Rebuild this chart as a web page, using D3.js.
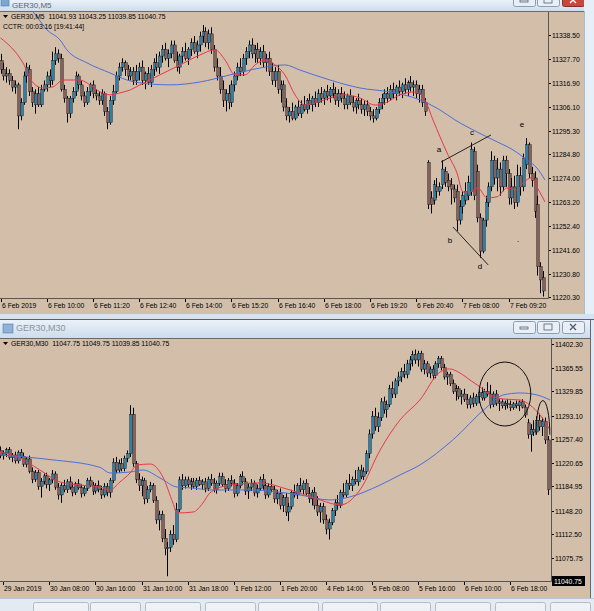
<!DOCTYPE html>
<html lang="en">
<head>
<meta charset="UTF-8">
<title>GER30 M5 / M30</title>
<script src="https://cdn.jsdelivr.net/npm/d3@7"></script>
<style>
  body { margin: 0; background: #dfe9f5; overflow: hidden; }
  svg { display: block; font-family: "Liberation Sans", Arial, sans-serif; }
  .lbl { font-size: 6.8px; fill: #000; }
  .note { font-size: 8px; fill: #000; text-anchor: middle; }
</style>
</head>
<body>
<svg id="screen" width="594" height="611"></svg>
<script>
// ---- M5 chart (top) ----
const m5Times = ["6 Feb 2019", "6 Feb 10:00", "6 Feb 11:20", "6 Feb 12:40", "6 Feb 14:00", "6 Feb 15:20",
  "6 Feb 16:40", "6 Feb 18:00", "6 Feb 19:20", "6 Feb 20:40", "7 Feb 08:00", "7 Feb 09:20"];
const m5Prices = ["11338.50", "11327.70", "11316.90", "11306.10", "11295.30", "11284.80", "11274.00",
  "11263.20", "11252.40", "11241.60", "11230.80", "11220.30"];
// [open, high, low, close]
const m5Bars = [
  [11327,11330,11321,11323],[11323,11326,11318,11320],[11320,11324,11317,11321],[11321,11323,11316,11318],
  [11318,11320,11313,11315],[11315,11318,11312,11316],[11316,11317,11296,11302],[11302,11310,11300,11308],
  [11308,11322,11307,11320],[11320,11326,11317,11324],[11323,11325,11311,11313],[11313,11315,11306,11308],
  [11307,11314,11303,11312],[11312,11315,11306,11307],[11307,11316,11306,11314],[11314,11318,11313,11316],
  [11316,11322,11313,11320],[11320,11323,11315,11318],[11318,11331,11316,11327],[11327,11333,11325,11330],
  [11330,11332,11326,11328],[11328,11330,11313,11314],[11314,11316,11308,11310],[11310,11311,11299,11303],
  [11303,11311,11301,11310],[11310,11315,11308,11313],[11313,11322,11311,11320],[11320,11321,11314,11316],
  [11316,11318,11309,11311],[11311,11313,11306,11308],[11308,11315,11307,11313],[11313,11317,11311,11316],
  [11316,11318,11310,11312],[11312,11314,11309,11311],[11311,11313,11307,11309],[11309,11314,11307,11312],
  [11312,11313,11302,11304],[11304,11306,11296,11299],[11299,11311,11298,11309],[11309,11316,11307,11313],
  [11313,11322,11312,11320],[11320,11326,11318,11324],[11324,11328,11322,11326],[11326,11327,11320,11323],
  [11323,11325,11318,11320],[11320,11324,11318,11322],[11322,11324,11316,11318],[11318,11325,11316,11322],
  [11322,11326,11318,11324],[11324,11327,11316,11318],[11318,11322,11314,11321],[11321,11324,11316,11317],
  [11317,11325,11315,11323],[11323,11328,11320,11326],[11326,11330,11322,11324],[11324,11331,11321,11329],
  [11329,11334,11326,11332],[11332,11335,11327,11328],[11328,11332,11324,11330],[11330,11336,11328,11334],
  [11334,11336,11326,11327],[11327,11331,11322,11324],[11324,11330,11321,11329],[11329,11333,11326,11331],
  [11331,11335,11327,11328],[11328,11333,11325,11332],[11332,11337,11329,11335],[11335,11338,11330,11331],
  [11331,11336,11328,11334],[11334,11340,11331,11338],[11338,11343,11335,11340],[11340,11342,11333,11335],
  [11335,11341,11332,11339],[11339,11342,11330,11332],[11332,11334,11322,11324],[11324,11328,11318,11320],
  [11320,11324,11312,11314],[11314,11318,11306,11309],[11309,11314,11304,11312],[11312,11316,11305,11308],
  [11308,11318,11306,11316],[11316,11322,11313,11320],[11320,11326,11318,11324],[11324,11328,11320,11322],
  [11322,11330,11320,11328],[11328,11333,11325,11331],[11331,11336,11328,11334],[11334,11337,11328,11330],
  [11330,11334,11326,11332],[11332,11335,11326,11328],[11328,11333,11325,11331],[11331,11334,11324,11326],
  [11326,11330,11322,11328],[11328,11331,11320,11322],[11322,11326,11316,11318],[11318,11324,11315,11322],
  [11322,11325,11312,11314],[11314,11318,11308,11316],[11316,11318,11304,11306],[11306,11310,11300,11302],
  [11302,11306,11299,11304],[11304,11308,11300,11301],[11301,11307,11300,11306],[11306,11309,11302,11303],
  [11303,11309,11301,11307],[11307,11311,11304,11305],[11305,11310,11303,11309],[11309,11312,11305,11307],
  [11307,11311,11304,11310],[11310,11313,11306,11308],[11308,11314,11306,11312],[11312,11315,11308,11310],
  [11310,11314,11307,11313],[11313,11316,11309,11311],[11311,11315,11308,11314],[11314,11317,11310,11312],
  [11312,11315,11307,11309],[11309,11314,11306,11312],[11312,11315,11308,11310],[11310,11313,11305,11307],
  [11307,11312,11305,11311],[11311,11314,11307,11308],[11308,11311,11304,11306],[11306,11310,11303,11309],
  [11309,11312,11305,11307],[11307,11310,11303,11305],[11305,11309,11302,11307],[11307,11309,11302,11304],
  [11304,11306,11300,11302],[11302,11305,11299,11301],[11301,11306,11300,11305],[11305,11310,11303,11308],
  [11308,11312,11305,11310],[11310,11314,11307,11312],[11312,11315,11308,11310],[11310,11316,11309,11314],
  [11314,11317,11310,11312],[11312,11316,11309,11315],[11315,11318,11311,11313],[11313,11317,11310,11316],
  [11316,11319,11312,11314],[11314,11318,11311,11317],[11317,11320,11313,11315],[11315,11318,11311,11316],
  [11316,11318,11310,11312],[11312,11316,11308,11314],[11314,11316,11306,11308],[11308,11310,11302,11304],
  [11281,11282,11260,11262],[11265,11268,11258,11262],[11264,11273,11262,11271],[11270,11274,11265,11268],
  [11268,11272,11266,11270],[11271,11282,11269,11278],[11277,11279,11270,11272],[11273,11276,11268,11270],
  [11271,11274,11262,11269],[11269,11271,11263,11265],[11268,11271,11250,11255],[11255,11264,11253,11261],
  [11261,11268,11258,11266],[11264,11272,11262,11268],[11266,11275,11264,11272],[11268,11290,11266,11287],
  [11286,11288,11264,11266],[11277,11280,11254,11256],[11256,11258,11238,11241],[11241,11256,11240,11255],
  [11255,11266,11252,11263],[11263,11272,11261,11270],[11270,11286,11268,11282],[11282,11284,11271,11274],
  [11274,11283,11268,11278],[11278,11281,11266,11270],[11270,11284,11268,11282],[11282,11284,11270,11276],
  [11276,11278,11262,11265],[11265,11274,11262,11270],[11270,11275,11260,11263],[11263,11280,11261,11275],
  [11275,11279,11266,11270],[11270,11285,11268,11283],[11280,11292,11278,11289],[11289,11290,11274,11276],
  [11276,11279,11270,11273],[11274,11277,11256,11259],[11262,11266,11230,11234],[11234,11236,11222,11228],
  [11229,11232,11220.5,11223]
];
// moving averages: [bar index, price]
const m5MaRed = [[0,11337.2],[7.8,11325.9],[11.3,11316.9],[14.7,11314.6],[18.2,11315.1],[21.6,11318.2],
  [27.5,11318.2],[31,11316],[34.5,11312.8],[37.9,11311.5],[41.4,11312.4],[44.9,11313.7],[48.3,11316],
  [55.2,11320.5],[62.2,11325],[69.1,11329.5],[74.3,11331.8],[77.8,11327.2],[81.2,11320.5],[84.7,11320.5],
  [88.2,11325],[91.6,11327.2],[95.1,11325],[98.5,11320.5],[102,11311.5],[105.5,11306.9],[108.9,11307.8],
  [114.1,11310.1],[119.3,11311.5],[124.5,11310.1],[129.7,11306.9],[133.2,11307.8],[138.4,11311.5],
  [143.6,11312.8],[147,11309.2],[149.8,11300.2],[154.7,11285.3],[158.1,11276.3],[160.2,11267.7],
  [162.6,11267.7],[165.4,11269.5],[168.5,11265],[172,11265.5],[175.4,11269.5],[178.9,11268.6],
  [181,11271.8],[184.1,11274.1],[185.8,11270],[188.6,11263.2]];
const m5MaBlue = [[8,11353],[11.3,11348.9],[16.1,11340.8],[20.6,11336.3],[23,11331.8],[30,11325.9],
  [37.9,11321.4],[43.8,11318.2],[48.3,11316.9],[58.7,11316],[69.1,11317.3],[79.5,11320.5],[89.9,11323.6],
  [98.5,11325],[103.7,11322.7],[114.1,11318.2],[124.5,11314.6],[134.9,11312.8],[145.3,11309.2],
  [152.2,11304.7],[157.4,11300.2],[165,11294.8],[172,11290.3],[177.5,11286.7],[182.4,11282.1],
  [185.8,11278.5],[188.6,11273.1]];
const m5Notes = [["a",151.9,11285.7],["b",155.7,11244.7],["c",163.3,11293.4],["d",166.1,11233.0],
  ["e",180.6,11297.0],[".",179.3,11245.2]];
const m5Lines = [[[152.6,11281.2],[169.9,11293.4]], [[156.7,11251.9],[168.9,11234.8]]];

// ---- M30 chart (bottom) ----
const m30Times = ["29 Jan 2019", "30 Jan 08:00", "30 Jan 16:00", "31 Jan 10:00", "31 Jan 18:00", "1 Feb 12:00",
  "1 Feb 20:00", "4 Feb 14:00", "5 Feb 08:00", "5 Feb 16:00", "6 Feb 10:00", "6 Feb 18:00"];
const m30Prices = ["11402.30", "11365.55", "11329.85", "11293.10", "11257.40", "11220.65", "11184.95",
  "11148.20", "11112.50", "11075.75"];
const m30Last = "11040.75";
const m30Bars = [
  [11240,11246,11228,11232],[11232,11240,11226,11236],[11236,11244,11230,11241],[11241,11245,11226,11229],
  [11229,11236,11222,11233],[11233,11238,11220,11224],[11224,11240,11220,11237],[11237,11242,11228,11231],
  [11231,11236,11215,11219],[11219,11230,11214,11227],[11227,11232,11205,11208],[11208,11214,11190,11196],
  [11196,11210,11192,11206],[11206,11210,11180,11185],[11185,11198,11168,11193],[11193,11205,11188,11201],
  [11201,11206,11182,11188],[11188,11198,11178,11195],[11195,11210,11190,11204],[11204,11208,11180,11184],
  [11184,11190,11165,11172],[11172,11190,11160,11186],[11186,11195,11176,11180],[11180,11196,11175,11192],
  [11192,11200,11180,11184],[11184,11190,11170,11176],[11176,11192,11172,11189],[11189,11196,11180,11183],
  [11183,11188,11168,11174],[11174,11186,11170,11182],[11182,11198,11178,11194],[11194,11200,11184,11187],
  [11187,11192,11172,11178],[11178,11190,11174,11186],[11186,11194,11176,11180],[11180,11186,11166,11172],
  [11172,11190,11168,11185],[11185,11190,11170,11176],[11176,11198,11168,11194],[11194,11228,11190,11222],
  [11222,11230,11205,11210],[11210,11226,11206,11220],[11220,11228,11208,11212],[11212,11232,11208,11228],
  [11228,11240,11222,11235],[11235,11309,11230,11295],[11295,11305,11215,11220],[11220,11224,11190,11196],
  [11196,11205,11178,11186],[11186,11200,11170,11194],[11194,11198,11158,11166],[11166,11186,11160,11180],
  [11180,11192,11176,11186],[11186,11190,11160,11164],[11164,11170,11128,11134],[11134,11148,11118,11142],
  [11142,11148,11100,11106],[11106,11120,11080,11090],[11090,11100,11048,11092],[11092,11118,11085,11112],
  [11112,11126,11096,11104],[11104,11160,11100,11150],[11150,11200,11146,11195],[11195,11204,11180,11186],
  [11186,11200,11182,11195],[11195,11200,11184,11188],[11188,11198,11180,11192],[11192,11198,11182,11185],
  [11185,11198,11180,11194],[11194,11200,11186,11188],[11188,11196,11180,11192],[11192,11198,11176,11182],
  [11182,11200,11178,11196],[11196,11204,11186,11190],[11190,11198,11176,11180],[11180,11194,11174,11190],
  [11190,11206,11186,11200],[11200,11206,11184,11188],[11188,11196,11176,11182],[11182,11198,11178,11194],
  [11194,11202,11185,11190],[11190,11196,11168,11174],[11174,11190,11170,11186],[11186,11204,11182,11200],
  [11200,11208,11188,11192],[11192,11198,11172,11178],[11178,11190,11166,11184],[11184,11196,11178,11190],
  [11190,11194,11170,11175],[11175,11188,11168,11182],[11182,11200,11178,11196],[11196,11204,11180,11186],
  [11186,11192,11166,11172],[11172,11190,11168,11185],[11185,11196,11176,11180],[11180,11186,11160,11166],
  [11166,11180,11158,11174],[11174,11182,11150,11156],[11156,11172,11146,11168],[11168,11175,11140,11146],
  [11146,11160,11132,11154],[11154,11180,11150,11176],[11176,11188,11168,11172],[11172,11190,11166,11186],
  [11186,11198,11176,11180],[11180,11194,11172,11190],[11190,11196,11170,11174],[11174,11184,11160,11166],
  [11166,11180,11156,11176],[11176,11184,11150,11156],[11156,11170,11140,11146],[11146,11160,11130,11154],
  [11154,11160,11128,11134],[11134,11142,11112,11120],[11120,11136,11104,11130],[11130,11152,11126,11148],
  [11148,11166,11140,11160],[11160,11172,11150,11156],[11156,11180,11152,11176],[11176,11190,11168,11172],
  [11172,11195,11168,11190],[11190,11204,11180,11186],[11186,11200,11178,11196],[11196,11210,11188,11192],
  [11192,11215,11186,11210],[11210,11218,11196,11200],[11200,11214,11195,11208],[11208,11240,11204,11235],
  [11235,11272,11228,11265],[11265,11300,11258,11292],[11292,11305,11270,11276],[11276,11298,11268,11290],
  [11290,11320,11285,11314],[11314,11322,11296,11302],[11302,11316,11290,11310],[11310,11340,11306,11334],
  [11334,11345,11320,11326],[11326,11350,11320,11346],[11346,11360,11338,11352],[11352,11366,11344,11360],
  [11360,11372,11350,11356],[11356,11378,11350,11372],[11372,11384,11362,11378],[11378,11392,11368,11386],
  [11386,11394,11372,11378],[11378,11392,11368,11388],[11388,11392,11360,11364],[11364,11378,11356,11372],
  [11372,11376,11352,11358],[11358,11368,11350,11364],[11364,11370,11348,11354],[11354,11376,11350,11372],
  [11372,11384,11366,11380],[11380,11384,11362,11366],[11366,11372,11348,11352],[11352,11360,11340,11356],
  [11356,11360,11338,11342],[11342,11348,11326,11330],[11330,11340,11316,11334],[11334,11338,11318,11322],
  [11322,11332,11310,11326],[11326,11334,11314,11318],[11318,11326,11304,11310],[11310,11324,11304,11320],
  [11320,11328,11306,11312],[11312,11326,11308,11322],[11322,11332,11312,11328],[11328,11336,11316,11320],
  [11320,11334,11316,11330],[11330,11344,11322,11326],[11326,11340,11304,11310],[11310,11330,11306,11326],
  [11326,11332,11308,11312],[11312,11318,11300,11314],[11314,11318,11304,11308],[11308,11316,11302,11312],
  [11312,11318,11304,11310],[11310,11316,11300,11305],[11305,11314,11302,11311],[11311,11316,11304,11308],
  [11308,11316,11300,11314],[11314,11318,11304,11306],[11306,11310,11290,11294],[11282,11288,11258,11264],
  [11264,11280,11238,11272],[11272,11286,11262,11268],[11268,11292,11264,11286],[11286,11296,11270,11276],
  [11276,11290,11262,11284],[11284,11290,11250,11256],[11256,11262,11172,11180]
];
const m30MaRed = [[0,11237.5],[6.8,11228.4],[13.7,11210.1],[20.7,11191.8],[27.6,11187.2],[34.6,11184],
  [38,11179.6],[41.5,11191.8],[45,11205.5],[47.4,11217.7],[52,11219.2],[56.4,11199.4],[59.9,11159.7],
  [61.3,11144.5],[66.9,11146],[70.3,11159.7],[72.7,11175],[79.7,11187.2],[90,11190.3],[100.5,11179.6],
  [111,11164.3],[117.9,11156.7],[124.8,11179.6],[131.8,11240.6],[138.7,11286.4],[145.6,11316.9],
  [152.6,11359.6],[156,11364.2],[159.5,11358.1],[163,11347.4],[166.5,11336.7],[170,11324.5],
  [174.5,11318.4],[180.4,11316.9],[183.8,11309.2],[187.3,11294],[190.8,11271.1]];
const m30MaBlue = [[0,11233],[17.2,11226],[34.6,11214],[38,11205.5],[45,11207],[49.5,11210.1],
  [55.4,11197.9],[61.3,11184.1],[66.9,11182.6],[72.7,11179.6],[86.6,11179.6],[104,11172],[114.4,11164.3],
  [121.3,11169],[131.8,11187.2],[138.7,11202.5],[145.6,11217.7],[157,11255.8],[168.9,11306.2],
  [174.5,11324.5],[180.4,11327.6],[186.3,11324.5],[190.8,11316.9]];
// hand-drawn marks: full ellipse and an open arch, [centre bar, centre price, half width in bars, half height in points]
const m30Circles = [[175.1,11326.0,9.0,48.8]];
const m30Arches = [[188.3,11264.0,2.4,52.0]];

const svg = d3.select("#screen");
const defs = svg.append("defs");

const tan = "#d2bea9";
const bull = "#2f80a8";
const bear = "#86605b";

// ---------- window chrome ----------
const gradTop = defs.append("linearGradient").attr("id", "gTitle").attr("x1", 0).attr("y1", 0).attr("x2", 0).attr("y2", 1);
gradTop.append("stop").attr("offset", 0).attr("stop-color", "#eaf1f9");
gradTop.append("stop").attr("offset", 1).attr("stop-color", "#cddcec");

svg.append("rect").attr("width", 594).attr("height", 611).attr("fill", "#dde8f4");

// top window
svg.append("rect").attr("x", 0).attr("y", 0).attr("width", 594).attr("height", 11).attr("fill", "url(#gTitle)");
svg.append("rect").attr("x", 1).attr("y", -2).attr("width", 8).attr("height", 8).attr("fill", "#7ea7cf").attr("stroke", "#4f7aa6").attr("stroke-width", 0.6);
svg.append("text").attr("x", 12).attr("y", 8).attr("font-size", 8).attr("fill", "#5a6470").text("GER30,M5");
function winButtons(y, h, closeRed) {
  const bx = [[513, 22], [537, 22], [562, 22]];
  bx.forEach(([x, w], k) => {
    const red = closeRed && k === 2;
    svg.append("rect").attr("x", x + 0.5).attr("y", y + 0.5).attr("width", w).attr("height", h)
      .attr("rx", 2).attr("fill", red ? "#c9463d" : "#e9eff6").attr("stroke", red ? "#8a2b25" : "#8c9db0");
    const cx = x + w / 2, cy = y + h / 2;
    if (k === 0) svg.append("rect").attr("x", cx - 4).attr("y", cy).attr("width", 8).attr("height", 2).attr("fill", "none").attr("stroke", "#55606c").attr("stroke-width", 0.8);
    if (k === 1) svg.append("rect").attr("x", cx - 4).attr("y", cy - 3).attr("width", 8).attr("height", 6).attr("fill", "none").attr("stroke", "#55606c").attr("stroke-width", 0.8);
    if (k === 2) {
      const col = red ? "#fff" : "#55606c";
      svg.append("path").attr("d", `M${cx - 3},${cy - 3}L${cx + 3},${cy + 3}M${cx + 3},${cy - 3}L${cx - 3},${cy + 3}`)
        .attr("stroke", col).attr("stroke-width", 1.4);
    }
  });
}
winButtons(-6, 12, true);
svg.append("rect").attr("x", 0).attr("y", 11).attr("width", 584).attr("height", 303).attr("fill", tan);
svg.append("line").attr("x1", 0).attr("x2", 584).attr("y1", 11.5).attr("y2", 11.5).attr("stroke", "#6e6a64");
svg.append("rect").attr("x", 584).attr("y", 0).attr("width", 10).attr("height", 320).attr("fill", "#e6eef8");
svg.append("line").attr("x1", 584.5).attr("x2", 584.5).attr("y1", 11).attr("y2", 315).attr("stroke", "#a9bccf");
svg.append("rect").attr("x", 0).attr("y", 314).attr("width", 594).attr("height", 5).attr("fill", "#d6e2ef");
svg.append("line").attr("x1", 0).attr("x2", 594).attr("y1", 319.5).attr("y2", 319.5).attr("stroke", "#3f6c7c");

// bottom window
svg.append("rect").attr("x", 0).attr("y", 320).attr("width", 590).attr("height", 18).attr("fill", "url(#gTitle)");
svg.append("rect").attr("x", 3).attr("y", 324).attr("width", 10).attr("height", 9).attr("fill", "#8fb2d6").attr("stroke", "#557ea8").attr("stroke-width", 0.6);
svg.append("text").attr("x", 16).attr("y", 331).attr("font-size", 9).attr("fill", "#8b939c").text("GER30,M30");
winButtons(321, 12, false);
svg.append("rect").attr("x", 0).attr("y", 338).attr("width", 590).attr("height", 260).attr("fill", tan);
svg.append("line").attr("x1", 0).attr("x2", 590).attr("y1", 338.5).attr("y2", 338.5).attr("stroke", "#6e6a64");
svg.append("line").attr("x1", 590.5).attr("x2", 590.5).attr("y1", 320).attr("y2", 598).attr("stroke", "#5f6b78");
svg.append("rect").attr("x", 0).attr("y", 598).attr("width", 594).attr("height", 13).attr("fill", "#e4eaf1");
svg.append("line").attr("x1", 0).attr("x2", 594).attr("y1", 598.5).attr("y2", 598.5).attr("stroke", "#b8c6d4");
[[33, 55], [90, 50], [145, 55], [205, 50], [258, 60], [322, 55], [380, 50], [435, 55], [495, 50], [550, 40]].forEach(([x, w]) => {
  svg.append("rect").attr("x", x + 0.5).attr("y", 602.5).attr("width", w).attr("height", 10).attr("rx", 2)
    .attr("fill", "#eef2f6").attr("stroke", "#b3bcc6");
});

// ---------- candle chart ----------
function drawChart(cfg) {
  const x = d3.scaleLinear().domain([0, 1]).range([cfg.x0, cfg.x0 + cfg.step]);
  const y = d3.scaleLinear().domain(cfg.priceRef).range(cfg.pixelRef);

  const clipId = cfg.id + "clip";
  defs.append("clipPath").attr("id", clipId).append("rect")
    .attr("x", cfg.left).attr("y", cfg.top).attr("width", cfg.right - cfg.left).attr("height", cfg.bottom - cfg.top);

  const g = svg.append("g");
  const plot = g.append("g").attr("clip-path", `url(#${clipId})`);

  const bars = plot.selectAll("g.bar").data(cfg.bars).join("g").attr("class", "bar");
  bars.append("line")
    .attr("x1", (d, i) => Math.round(x(i)) + 0.5).attr("x2", (d, i) => Math.round(x(i)) + 0.5)
    .attr("y1", d => y(d[1])).attr("y2", d => y(d[2]))
    .attr("stroke", "#000").attr("stroke-width", 1);
  bars.append("rect")
    .attr("x", (d, i) => Math.round(x(i)) - 0.3)
    .attr("y", d => y(Math.max(d[0], d[3])))
    .attr("width", 2.6)
    .attr("height", d => Math.max(0.8, Math.abs(y(d[0]) - y(d[3]))))
    .attr("fill", d => d[3] >= d[0] ? bull : bear)
    .attr("stroke", "#111").attr("stroke-width", 0.4);

  const line = d3.line().x(d => x(d[0])).y(d => y(d[1])).curve(d3.curveMonotoneX);
  plot.append("path").datum(cfg.maBlue).attr("d", line).attr("fill", "none").attr("stroke", "#4c6fdc").attr("stroke-width", 1);
  plot.append("path").datum(cfg.maRed).attr("d", line).attr("fill", "none").attr("stroke", "#e8374c").attr("stroke-width", 1);

  if (cfg.lines) cfg.lines.forEach(l => {
    plot.append("line").attr("x1", x(l[0][0])).attr("y1", y(l[0][1])).attr("x2", x(l[1][0])).attr("y2", y(l[1][1]))
      .attr("stroke", "#111").attr("stroke-width", 0.9);
  });
  if (cfg.notes) cfg.notes.forEach(t => {
    plot.append("text").attr("class", "note").attr("x", x(t[1])).attr("y", y(t[2])).text(t[0]);
  });
  if (cfg.circles) cfg.circles.forEach(c => {
    plot.append("ellipse").attr("cx", x(c[0])).attr("cy", y(c[1]))
      .attr("rx", Math.abs(x(c[2]) - x(0))).attr("ry", Math.abs(y(c[1] + c[3]) - y(c[1])))
      .attr("fill", "none").attr("stroke", "#111").attr("stroke-width", 1);
  });
  if (cfg.arches) cfg.arches.forEach(c => {
    const cx = x(c[0]), cy = y(c[1]);
    const rx = Math.abs(x(c[2]) - x(0)), ry = Math.abs(y(c[1] + c[3]) - y(c[1]));
    plot.append("path").attr("d", `M${cx - rx},${cy}A${rx},${ry} 0 0 1 ${cx + rx},${cy}`)
      .attr("fill", "none").attr("stroke", "#111").attr("stroke-width", 1);
  });

  // frame
  g.append("line").attr("x1", cfg.right + 0.5).attr("x2", cfg.right + 0.5).attr("y1", cfg.top).attr("y2", cfg.bottom + 0.5).attr("stroke", "#5a554f");
  g.append("line").attr("x1", 0).attr("x2", cfg.right + 0.5).attr("y1", cfg.bottom + 0.5).attr("y2", cfg.bottom + 0.5).attr("stroke", "#5a554f");

  // price axis
  cfg.prices.forEach(p => {
    const py = Math.round(y(+p)) + 0.5;
    g.append("line").attr("x1", cfg.right + 1).attr("x2", cfg.right + 3).attr("y1", py).attr("y2", py).attr("stroke", "#000");
    g.append("text").attr("class", "lbl").attr("x", cfg.right + 4).attr("y", py + 2.5).text(p);
  });
  if (cfg.last) {
    const py = y(+cfg.last);
    g.append("rect").attr("x", cfg.right + 1).attr("y", py - 5).attr("width", 33).attr("height", 10).attr("fill", "#000");
    g.append("text").attr("class", "lbl").attr("x", cfg.right + 3).attr("y", py + 2.5).style("fill", "#fff").text(cfg.last);
  }

  // time axis
  cfg.times.forEach((t, k) => {
    const tx = Math.round(x(cfg.firstTick + k * cfg.tickEvery)) + 0.5;
    g.append("line").attr("x1", tx).attr("x2", tx).attr("y1", cfg.bottom + 1).attr("y2", cfg.bottom + 4).attr("stroke", "#000");
    g.append("text").attr("class", "lbl").attr("x", tx + 0.5).attr("y", cfg.bottom + 10).text(t);
  });

  // header
  const hy = cfg.top + 7;
  g.append("path").attr("d", `M3,${hy - 4}L8,${hy - 4}L5.5,${hy - 1}Z`).attr("fill", "#000");
  cfg.header.forEach((h, k) => {
    g.append("text").attr("class", "lbl").attr("x", k === 0 ? 11 : 3).attr("y", hy + k * 10).attr("xml:space", "preserve").text(h);
  });
}

drawChart({
  id: "m5", bars: m5Bars, maRed: m5MaRed, maBlue: m5MaBlue, prices: m5Prices, times: m5Times,
  priceRef: [11220.3, 11338.5], pixelRef: [297, 35],
  x0: 0.5, step: 2.887, firstTick: 0, tickEvery: 16,
  left: 0, right: 548, top: 12, bottom: 298,
  lines: m5Lines, notes: m5Notes,
  header: ["GER30,M5  11041.93 11043.25 11039.85 11040.75", "CCTR: 00:03:16 [19:41:44]"]
});

drawChart({
  id: "m30", bars: m30Bars, maRed: m30MaRed, maBlue: m30MaBlue, prices: m30Prices, times: m30Times, last: m30Last,
  priceRef: [11040.75, 11402.3], pixelRef: [581, 344],
  x0: 0.4, step: 2.881, firstTick: 1, tickEvery: 16,
  left: 0, right: 551, top: 339, bottom: 581,
  circles: m30Circles, arches: m30Arches,
  header: ["GER30,M30  11047.75 11049.75 11039.85 11040.75"]
});
</script>
</body>
</html>
